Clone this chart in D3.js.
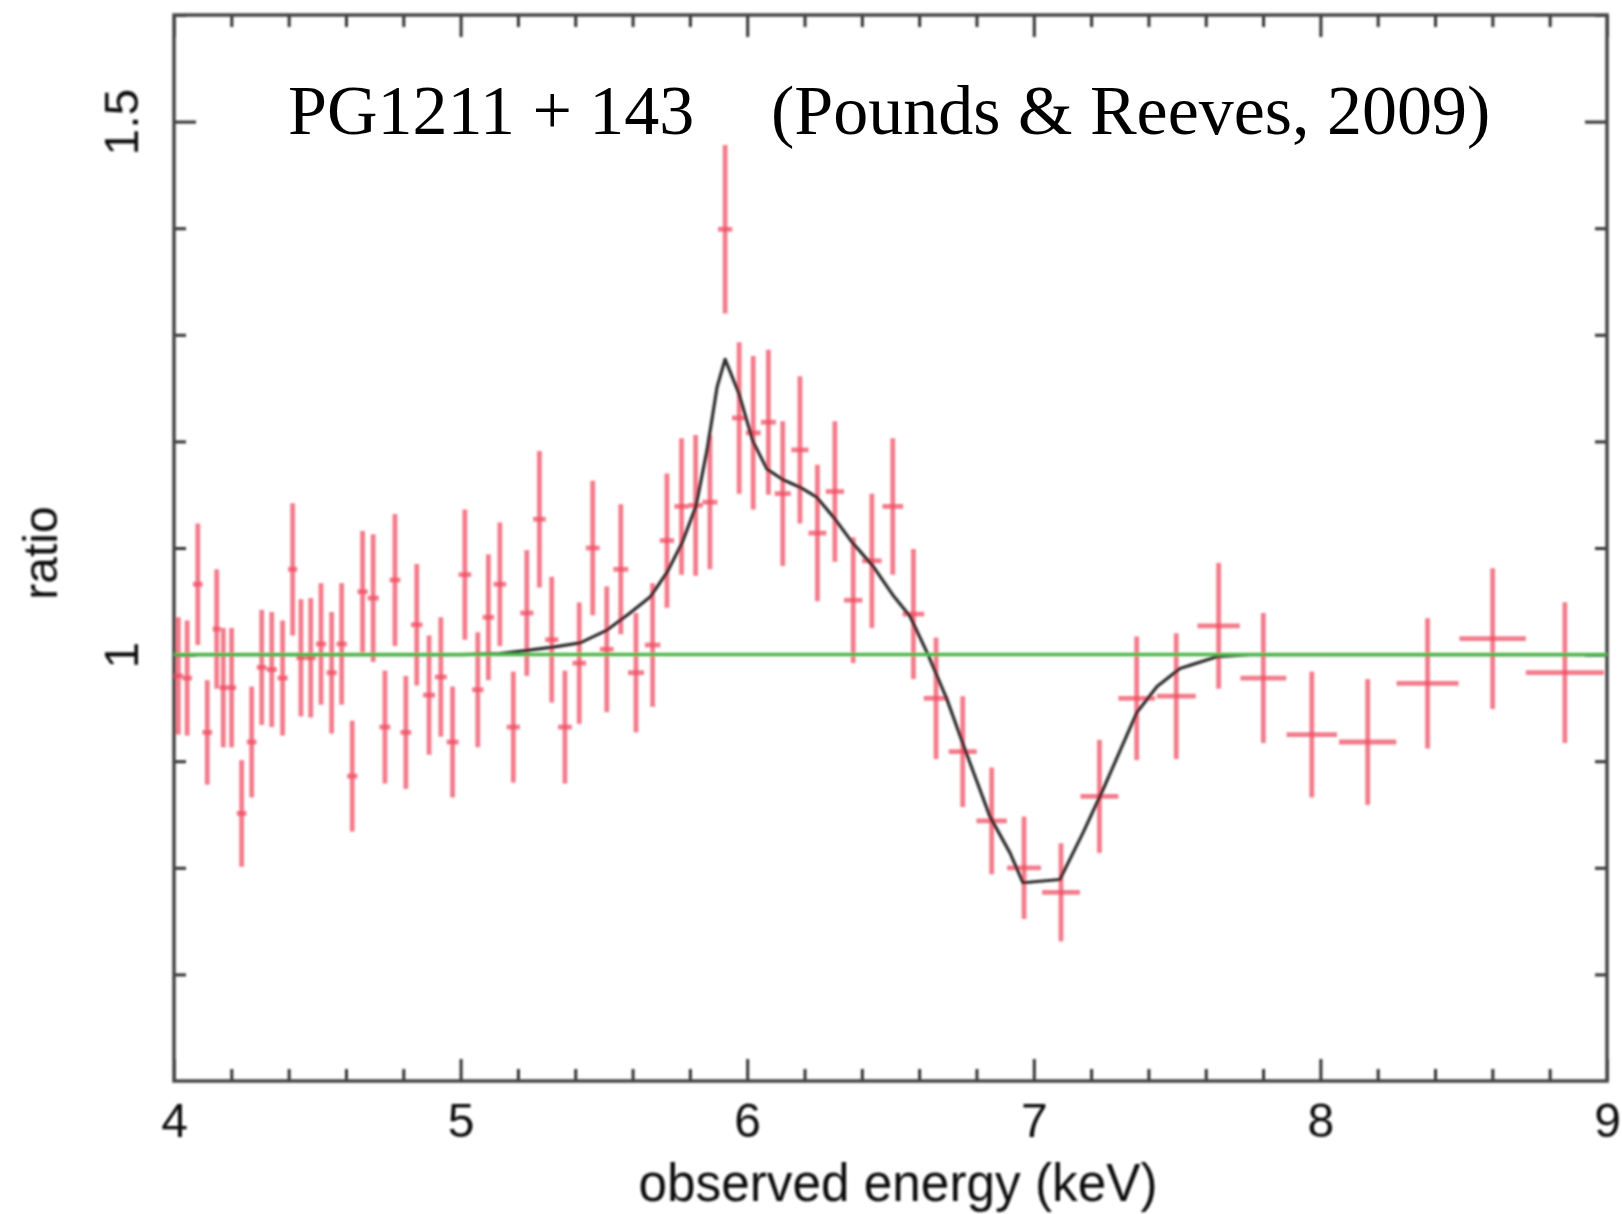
<!DOCTYPE html>
<html>
<head>
<meta charset="utf-8">
<script src="https://cdn.jsdelivr.net/npm/d3@7"></script>
<style>
  html, body { margin: 0; padding: 0; background: #fff; }
  svg { display: block; }
</style>
</head>
<body>
<svg id="chart" width="1622" height="1214"></svg>
<script>
// Observed energy of each spectral bin (keV) and its half width
const energy = [
  4.015, 4.046, 4.083, 4.116, 4.149, 4.172, 4.201, 4.236, 4.271, 4.306,
  4.341, 4.379, 4.414, 4.443, 4.477, 4.513, 4.550, 4.585, 4.622, 4.658,
  4.695, 4.736, 4.771, 4.809, 4.847, 4.890, 4.931, 4.972, 5.015, 5.060,
  5.097, 5.137, 5.184, 5.231, 5.275, 5.318, 5.364, 5.414, 5.461, 5.510,
  5.559, 5.612, 5.670, 5.720, 5.771, 5.820, 5.870, 5.923, 5.972, 6.021,
  6.074, 6.124, 6.184, 6.245, 6.306, 6.370, 6.435, 6.508, 6.580, 6.659,
  6.752, 6.853, 6.966, 7.095, 7.229, 7.359, 7.497, 7.645, 7.801, 7.970,
  8.165, 8.374, 8.601, 8.853
];
const energyHalfWidth = [
  0.016, 0.017, 0.017, 0.017, 0.014, 0.013, 0.016, 0.017, 0.017, 0.017,
  0.018, 0.018, 0.016, 0.016, 0.018, 0.018, 0.018, 0.018, 0.018, 0.018,
  0.020, 0.019, 0.019, 0.019, 0.020, 0.021, 0.021, 0.021, 0.022, 0.020,
  0.020, 0.022, 0.023, 0.023, 0.022, 0.023, 0.024, 0.024, 0.024, 0.024,
  0.026, 0.028, 0.027, 0.025, 0.025, 0.025, 0.026, 0.025, 0.025, 0.026,
  0.026, 0.028, 0.030, 0.031, 0.032, 0.032, 0.034, 0.036, 0.038, 0.043,
  0.049, 0.053, 0.059, 0.066, 0.066, 0.064, 0.068, 0.074, 0.080, 0.088,
  0.100, 0.108, 0.116, 0.136
];
// Data / continuum ratio and its 1-sigma error
const ratio = [
  0.980, 0.978, 1.066, 0.927, 1.024, 0.969, 0.969, 0.851, 0.918, 0.988,
  0.986, 0.978, 1.080, 0.997, 0.997, 1.010, 0.983, 1.010, 0.886, 1.059,
  1.053, 0.932, 1.070, 0.927, 1.028, 0.962, 0.979, 0.918, 1.075, 0.967,
  1.035, 1.066, 0.932, 1.039, 1.127, 1.014, 0.932, 0.992, 1.100, 1.005,
  1.080, 0.983, 1.009, 1.107, 1.139, 1.140, 1.143, 1.399, 1.222, 1.208,
  1.218, 1.151, 1.192, 1.114, 1.153, 1.051, 1.088, 1.139, 1.038, 0.959,
  0.909, 0.844, 0.800, 0.777, 0.867, 0.959, 0.961, 1.027, 0.978, 0.925,
  0.918, 0.973, 1.015, 0.983
];
const ratioErr = [
  0.055, 0.054, 0.057, 0.049, 0.056, 0.056, 0.056, 0.050, 0.052, 0.054,
  0.054, 0.054, 0.062, 0.055, 0.056, 0.057, 0.057, 0.057, 0.052, 0.057,
  0.060, 0.053, 0.062, 0.053, 0.057, 0.056, 0.056, 0.052, 0.061, 0.054,
  0.059, 0.058, 0.052, 0.059, 0.064, 0.059, 0.053, 0.057, 0.063, 0.059,
  0.061, 0.056, 0.058, 0.063, 0.064, 0.066, 0.063, 0.079, 0.071, 0.072,
  0.068, 0.068, 0.069, 0.064, 0.066, 0.059, 0.063, 0.064, 0.061, 0.057,
  0.052, 0.050, 0.048, 0.046, 0.053, 0.058, 0.059, 0.059, 0.061, 0.059,
  0.059, 0.061, 0.066, 0.066
];
// Best-fit emission + absorption model, as a ratio to the continuum
const modelEnergy = [
  4.000, 5.000, 5.137, 5.232, 5.322, 5.417, 5.511, 5.591, 5.661, 5.720,
  5.773, 5.821, 5.860, 5.895, 5.923, 5.971, 6.020, 6.069, 6.125, 6.184,
  6.241, 6.304, 6.367, 6.439, 6.508, 6.568, 6.631, 6.697, 6.760, 6.847,
  6.917, 6.962, 7.091, 7.172, 7.241, 7.360, 7.430, 7.510, 7.639, 7.754,
  9.000
];
const modelRatio = [
  1.000, 1.000, 1.001, 1.004, 1.007, 1.011, 1.023, 1.039, 1.054, 1.077,
  1.105, 1.139, 1.192, 1.251, 1.277, 1.245, 1.200, 1.174, 1.164, 1.157,
  1.148, 1.128, 1.105, 1.083, 1.056, 1.036, 1.000, 0.958, 0.911, 0.848,
  0.814, 0.786, 0.789, 0.833, 0.873, 0.946, 0.970, 0.987, 0.998, 1.000,
  1.000
];
const unityLevel = 1.0;
const xMajorTicks = [4, 5, 6, 7, 8, 9];
const yMajorTicks = [1.0, 1.5];
const yTickLabels = ["1", "1.5"];
const xTitle = "observed energy (keV)";
const yTitle = "ratio";
const sourceName = "PG1211 + 143";
const reference = "(Pounds & Reeves, 2009)";

const svg = d3.select("#chart");
const plotLeft = 174, plotRight = 1607, plotTop = 15, plotBottom = 1081;

const x = d3.scaleLinear().domain([4, 9]).range([plotLeft, plotRight]);
const y = d3.scaleLinear().domain([0.6, 1.6]).range([plotBottom, plotTop]);

// soft rendering of the plot body
const defs = svg.append("defs");
defs.append("filter").attr("id", "soft")
  .attr("x", "-5%").attr("y", "-5%").attr("width", "110%").attr("height", "110%")
  .append("feGaussianBlur").attr("stdDeviation", 1.1);

const plot = svg.append("g").attr("filter", "url(#soft)");

const axisFont = "'Liberation Sans', Arial, Helvetica, sans-serif";
const xMinor = d3.range(4, 9.001, 0.2).filter(v => Math.abs(v - Math.round(v)) > 1e-6);
const yMinor = d3.range(0.7, 1.601, 0.1).filter(v => Math.abs(v * 2 - Math.round(v * 2)) > 1e-6);

function styleAxis(g) {
  g.select(".domain").remove();
  g.selectAll(".tick line").attr("stroke", "#333").attr("stroke-width", 3);
}

// bottom axis: inward ticks, labels below
plot.append("g").attr("transform", `translate(0,${plotBottom})`)
  .call(d3.axisBottom(x).tickValues(xMajorTicks).tickSize(-22).tickSizeOuter(0)
    .tickPadding(22).tickFormat(d3.format("d")))
  .call(styleAxis)
  .call(g => g.selectAll("text").attr("font-family", axisFont).attr("font-size", 48)
    .attr("fill", "#111"));
plot.append("g").attr("transform", `translate(0,${plotBottom})`)
  .call(d3.axisBottom(x).tickValues(xMinor).tickSize(-12).tickSizeOuter(0).tickFormat(""))
  .call(styleAxis);

// top axis
plot.append("g").attr("transform", `translate(0,${plotTop})`)
  .call(d3.axisTop(x).tickValues(xMajorTicks).tickSize(-22).tickSizeOuter(0).tickFormat(""))
  .call(styleAxis);
plot.append("g").attr("transform", `translate(0,${plotTop})`)
  .call(d3.axisTop(x).tickValues(xMinor).tickSize(-12).tickSizeOuter(0).tickFormat(""))
  .call(styleAxis);

// left axis with rotated labels
plot.append("g").attr("transform", `translate(${plotLeft},0)`)
  .call(d3.axisLeft(y).tickValues(yMajorTicks).tickSize(-22).tickSizeOuter(0)
    .tickFormat((d, i) => yTickLabels[i]))
  .call(styleAxis)
  .call(g => g.selectAll("text")
    .attr("font-family", axisFont).attr("font-size", 48).attr("fill", "#111")
    .attr("x", null).attr("dy", null)
    .attr("text-anchor", "middle")
    .attr("transform", "translate(-36,0) rotate(-90)"));
plot.append("g").attr("transform", `translate(${plotLeft},0)`)
  .call(d3.axisLeft(y).tickValues(yMinor).tickSize(-12).tickSizeOuter(0).tickFormat(""))
  .call(styleAxis);

// right axis
plot.append("g").attr("transform", `translate(${plotRight},0)`)
  .call(d3.axisRight(y).tickValues(yMajorTicks).tickSize(-22).tickSizeOuter(0).tickFormat(""))
  .call(styleAxis);
plot.append("g").attr("transform", `translate(${plotRight},0)`)
  .call(d3.axisRight(y).tickValues(yMinor).tickSize(-12).tickSizeOuter(0).tickFormat(""))
  .call(styleAxis);

// frame
plot.append("rect")
  .attr("x", plotLeft).attr("y", plotTop)
  .attr("width", plotRight - plotLeft).attr("height", plotBottom - plotTop)
  .attr("fill", "none").attr("stroke", "#444").attr("stroke-width", 3.5);

// axis titles
plot.append("text")
  .attr("x", 898).attr("y", 1201)
  .attr("text-anchor", "middle")
  .attr("font-family", axisFont).attr("font-size", 54).attr("fill", "#111")
  .attr("textLength", 519).attr("lengthAdjust", "spacingAndGlyphs")
  .text(xTitle);
plot.append("text")
  .attr("transform", `translate(57,${(plotTop + plotBottom) / 2 + 5}) rotate(-90)`)
  .attr("text-anchor", "middle")
  .attr("font-family", axisFont).attr("font-size", 48).attr("fill", "#111")
  .text(yTitle);

// data points with error bars
const pts = energy.map((e, i) => ({
  e, hw: energyHalfWidth[i], r: ratio[i], err: ratioErr[i]
}));
const bars = plot.append("g").attr("stroke", "#ee4a60").attr("stroke-opacity", 0.72)
  .attr("stroke-width", 4.8);
bars.selectAll("line.v").data(pts).join("line").attr("class", "v")
  .attr("x1", d => x(d.e)).attr("x2", d => x(d.e))
  .attr("y1", d => y(d.r - d.err)).attr("y2", d => y(d.r + d.err));
bars.selectAll("line.h").data(pts).join("line").attr("class", "h")
  .attr("x1", d => x(d.e - d.hw)).attr("x2", d => x(d.e + d.hw))
  .attr("y1", d => y(d.r)).attr("y2", d => y(d.r));

// model curve
plot.append("path")
  .datum(modelEnergy.map((e, i) => [e, modelRatio[i]]))
  .attr("fill", "none").attr("stroke", "#2a2a2a").attr("stroke-width", 3.2)
  .attr("stroke-linejoin", "round")
  .attr("d", d3.line().x(d => x(d[0])).y(d => y(d[1])));

// unity line, drawn over the flat parts of the model
plot.append("line")
  .attr("x1", x(4)).attr("x2", x(9))
  .attr("y1", y(unityLevel)).attr("y2", y(unityLevel))
  .attr("stroke", "#4cb848").attr("stroke-width", 3.5);

// title
const titleFont = "'Liberation Serif', 'Times New Roman', Times, serif";
svg.append("text").attr("x", 288).attr("y", 134)
  .attr("font-family", titleFont).attr("font-size", 70).attr("fill", "#000")
  .text(sourceName);
svg.append("text").attr("x", 771).attr("y", 134)
  .attr("font-family", titleFont).attr("font-size", 70).attr("fill", "#000")
  .text(reference);
</script>
</body>
</html>
